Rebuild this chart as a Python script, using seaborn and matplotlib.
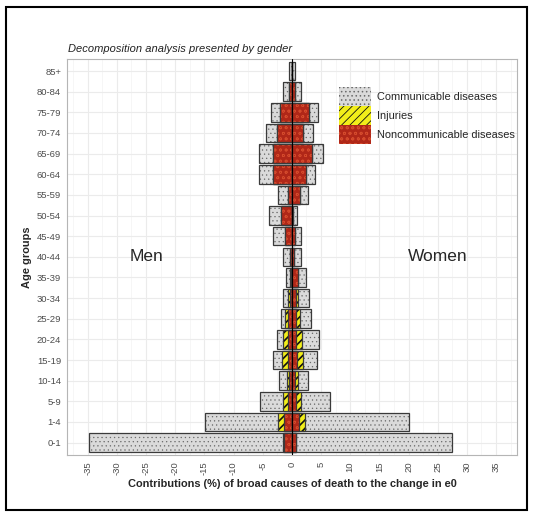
import matplotlib
matplotlib.use("Agg")
import matplotlib.pyplot as plt
import seaborn as sns
import numpy as np
from matplotlib.patches import Patch, Rectangle
from matplotlib.ticker import MultipleLocator

# age groups, youngest first
ages = ["0-1", "1-4", "5-9", "10-14", "15-19", "20-24", "25-29", "30-34", "35-39",
        "40-44", "45-49", "50-54", "55-59", "60-64", "65-69", "70-74", "75-79",
        "80-84", "85+"]

# contributions (%) by cause, men (negative side)
men_ncd = [-1.40, -1.30, -0.70, -0.50, -0.60, -0.60, -0.60, -0.40, -0.20, -0.35,
           -1.25, -1.85, -0.70, -3.30, -3.25, -2.55, -2.00, -0.55, -0.05]
men_inj = [-0.05, -1.15, -0.80, -0.40, -1.10, -0.85, -0.50, -0.20, -0.05, 0.00,
           0.00, 0.00, 0.00, 0.00, 0.00, 0.00, 0.00, 0.00, 0.00]
men_comm = [-33.25, -12.45, -3.90, -1.30, -1.60, -1.05, -0.75, -0.85, -0.75, -1.15,
            -1.90, -2.00, -1.75, -2.40, -2.35, -1.95, -1.60, -1.00, -0.45]

# women (positive side)
women_ncd = [0.65, 1.25, 0.70, 0.60, 0.85, 0.70, 0.70, 0.75, 1.05, 0.40,
             0.55, 0.15, 1.45, 2.45, 3.50, 1.95, 2.90, 0.60, 0.05]
women_inj = [0.00, 1.05, 0.80, 0.45, 1.05, 1.00, 0.65, 0.35, 0.05, 0.00,
             0.00, 0.00, 0.00, 0.00, 0.00, 0.00, 0.00, 0.00, 0.00]
women_comm = [26.75, 17.80, 5.10, 1.75, 2.45, 2.96, 1.95, 1.85, 1.40, 1.25,
              1.05, 0.75, 1.40, 1.60, 1.85, 1.75, 1.65, 1.05, 0.50]

causes = ["Communicable diseases", "Injuries", "Noncommunicable diseases"]
order = ages[::-1]

sns.set_style("white")
plt.rcParams["font.family"] = ["Liberation Sans", "DejaVu Sans"]
plt.rcParams["axes.unicode_minus"] = False
plt.rcParams["hatch.linewidth"] = 0.6

FILL = {"comm": "#dadada", "inj": "#f2ee1a", "ncd": "#b02718"}
HATCH = {"comm": "....", "inj": "////", "ncd": "ooo"}
HCOL = {"comm": "#6a6a6a", "inj": "#111111", "ncd": "#d44a2c"}
HLW = {"comm": 0.4, "inj": 1.2, "ncd": 0.5}
EDGE = "#3a3a3a"

fig = plt.figure(figsize=(5.33, 5.12), dpi=100)
ax = fig.add_axes([0.1263, 0.1113, 0.970 - 0.1263, 0.8854 - 0.1113])


def style_patch(p, key):
    p.set_hatch(HATCH[key])
    p.set_edgecolor(HCOL[key])
    p.set_linewidth(0)
    if hasattr(p, "set_hatch_linewidth"):
        p.set_hatch_linewidth(HLW[key])


def layer(vals, key):
    n0 = len(ax.patches)
    sns.barplot(x=vals, y=ages, order=order, orient="h", color=FILL[key],
                saturation=1, width=0.9, linewidth=0, errorbar=None, ax=ax)
    for p in ax.patches[n0:]:
        style_patch(p, key)
    sns.barplot(x=vals, y=ages, order=order, orient="h", color=EDGE, fill=False,
                width=0.9, linewidth=0.9, errorbar=None, ax=ax)


for ncd, inj, comm in [(men_ncd, men_inj, men_comm), (women_ncd, women_inj, women_comm)]:
    ncd = np.array(ncd)
    inj = np.array(inj)
    comm = np.array(comm)
    layer(ncd + inj + comm, "comm")
    layer(ncd + inj, "inj")
    layer(ncd, "ncd")

ax.axvline(0, color="black", lw=0.8, zorder=6)

ax.set_xlim(-38.5, 38.6)
ax.set_ylim(len(ages) - 1 + 0.6, -0.6)
ticks = list(range(-35, 36, 5))
ax.set_xticks(ticks)
ax.set_xticklabels([str(t) for t in ticks], rotation=90, fontsize=6.8, color="#4d4d4d")
ax.xaxis.set_minor_locator(MultipleLocator(2.5))
ax.tick_params(axis="y", labelsize=6.8, labelcolor="#4d4d4d")
ax.tick_params(which="major", length=2.5, width=0.6, color="#333333", pad=2)
ax.tick_params(which="minor", length=0)

ax.set_axisbelow(True)
ax.grid(which="major", color="#ebebeb", lw=0.8)
ax.grid(which="minor", axis="x", color="#f3f3f3", lw=0.5)
for s in ax.spines.values():
    s.set_color("#b5b5b5")
    s.set_linewidth(0.8)

ax.set_xlabel("Contributions (%) of broad causes of death to the change in e0",
              fontsize=7.9, fontweight="bold", labelpad=3)
ax.set_ylabel("Age groups", fontsize=7.9, fontweight="bold", labelpad=3)

ax.text(-25, order.index("40-44"), "Men", ha="center", va="center", fontsize=12.5)
ax.text(25, order.index("40-44"), "Women", ha="center", va="center", fontsize=12.5)

handles = []
for k in ["comm", "inj", "ncd"]:
    h = Patch(facecolor=FILL[k], hatch=HATCH[k], edgecolor=HCOL[k], linewidth=0)
    if hasattr(h, "set_hatch_linewidth"):
        h.set_hatch_linewidth(HLW[k])
    handles.append(h)
ax.legend(handles, causes, loc="upper left", bbox_to_anchor=(0.605, 0.929),
          frameon=False, fontsize=7.9, handlelength=2.9, handleheight=2.3,
          labelspacing=0, handletextpad=0.5, borderpad=0, borderaxespad=0)

fig.text(0.128, 0.904, "Decomposition analysis presented by gender",
         fontsize=8, style="italic", color="#222222", va="center")

fig.patches.append(Rectangle((0.011, 0.004), 0.978, 0.982, transform=fig.transFigure,
                             fill=False, edgecolor="black", linewidth=1.5))

fig.savefig("out.png", dpi=100)
